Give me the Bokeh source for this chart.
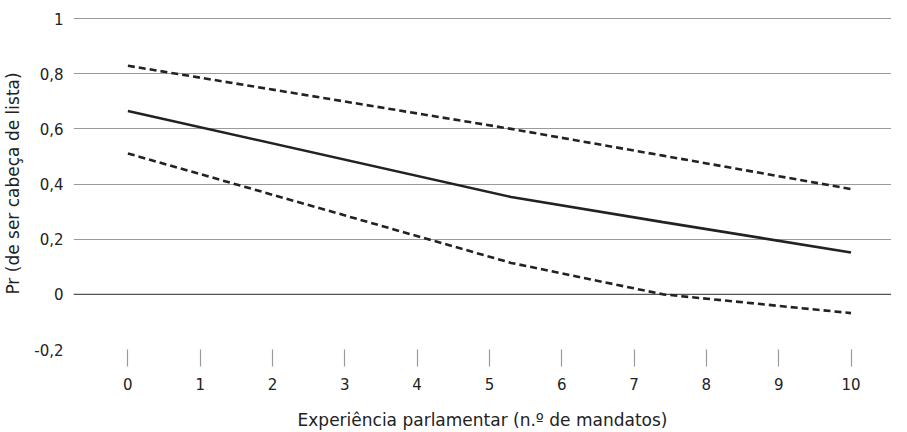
from bokeh.plotting import figure
from bokeh.models import Range1d, FixedTicker
from bokeh.embed import file_html
from bokeh.resources import INLINE

# Data
mandatos = [0, 5.3, 7.4, 10]
prob = [0.665, 0.353, 0.262, 0.152]
upper = [0.829, 0.600, 0.503, 0.382]
lower = [0.511, 0.114, 0.000, -0.068]

x_ticks = list(range(0, 11))
y_ticks = [-0.2, 0, 0.2, 0.4, 0.6, 0.8, 1.0]
y_tick_labels = ["-0,2", "0", "0,2", "0,4", "0,6", "0,8", "1"]

FONT = "DejaVu Sans"
TXT = "#222222"

p = figure(width=891, height=432, output_backend="svg", toolbar_location=None,
           x_range=Range1d(-0.752, 10.56), y_range=Range1d(-0.2, 1.004),
           min_border_left=64, min_border_top=17, min_border_right=0, min_border_bottom=79)
p.outline_line_color = None
p.background_fill_color = "white"

# gridlines
p.xgrid.grid_line_color = None
p.ygrid.ticker = FixedTicker(ticks=[t for t in y_ticks if t != 0])
p.ygrid.grid_line_color = "#9a9a9a"
p.ygrid.grid_line_width = 1.2

# zero line (darker)
p.line(x=[-0.752, 10.56], y=[0, 0], line_color="#555555", line_width=1.4)

# series
p.line(mandatos, upper, line_color="#222222", line_width=2.6, line_dash="7 4")
p.line(mandatos, lower, line_color="#222222", line_width=2.6, line_dash="7 4")
p.line(mandatos, prob, line_color="#222222", line_width=2.6)

# x axis
xa = p.xaxis[0]
xa.ticker = FixedTicker(ticks=x_ticks)
xa.axis_line_color = None
xa.major_tick_line_color = "#9a9a9a"
xa.major_tick_line_width = 1.2
xa.major_tick_out = 17
xa.major_tick_in = 0
xa.minor_tick_line_color = None
xa.major_label_standoff = 11
xa.major_label_text_font = FONT
xa.major_label_text_font_size = "15px"
xa.major_label_text_color = TXT
xa.axis_label = "Experiência parlamentar (n.º de mandatos)"
xa.axis_label_text_font = FONT
xa.axis_label_text_font_size = "17px"
xa.axis_label_text_font_style = "normal"
xa.axis_label_text_color = TXT
xa.axis_label_standoff = 17

# y axis
ya = p.yaxis[0]
ya.ticker = FixedTicker(ticks=y_ticks)
ya.major_label_overrides = {t: l for t, l in zip(y_ticks, y_tick_labels)}
ya.axis_line_color = None
ya.major_tick_line_color = None
ya.minor_tick_line_color = None
ya.major_tick_out = 0
ya.major_tick_in = 0
ya.major_label_standoff = 10
ya.major_label_text_font = FONT
ya.major_label_text_font_size = "15px"
ya.major_label_text_color = TXT
ya.axis_label = "Pr (de ser cabeça de lista)"
ya.axis_label_text_font = FONT
ya.axis_label_text_font_size = "17px"
ya.axis_label_text_font_style = "normal"
ya.axis_label_text_color = TXT
ya.axis_label_standoff = 8

open("out.html", "w").write(file_html(p, INLINE))
